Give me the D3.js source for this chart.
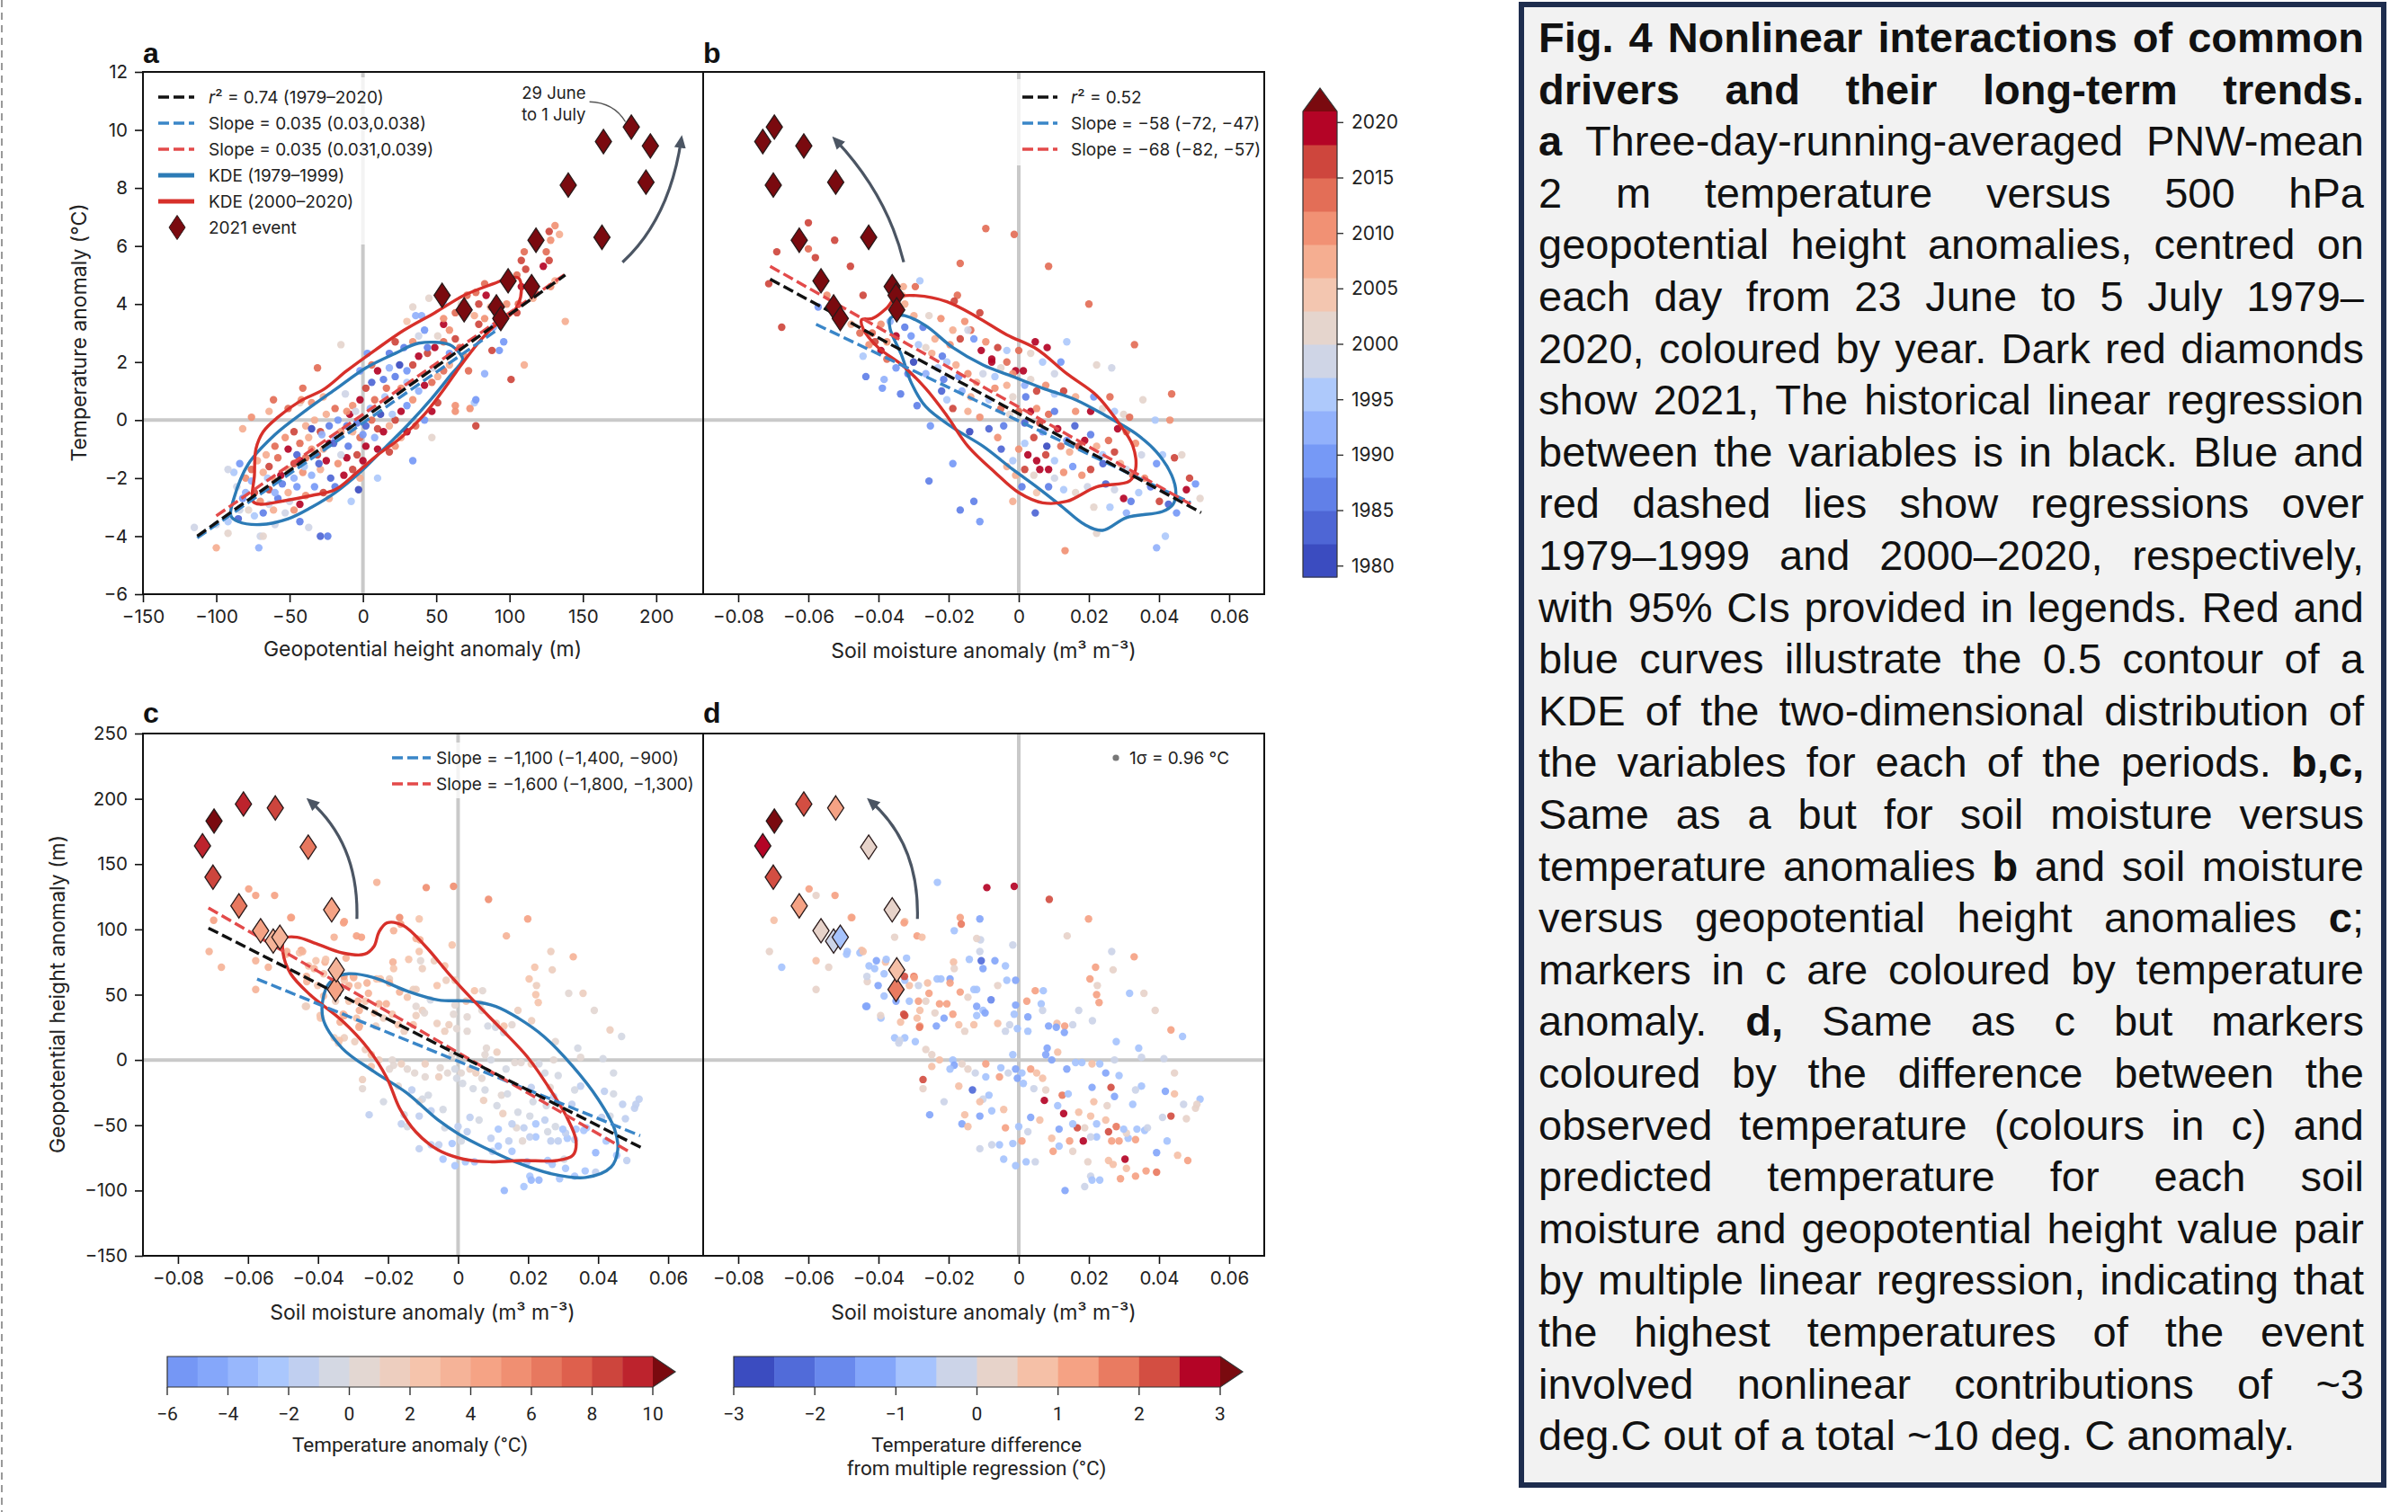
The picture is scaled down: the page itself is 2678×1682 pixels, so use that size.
<!DOCTYPE html>
<html>
<head>
<meta charset="utf-8">
<script src="https://cdn.jsdelivr.net/npm/d3@7"></script>
<style>
  body { margin: 0; background: #fff; }
  svg { display: block; }
</style>
</head>
<body>
<svg id="fig"></svg>
<script>
// ---------- data ----------

// panel a: [geopotential height anomaly (m), temperature anomaly (°C), year]
const aPts = [
[131,6.7,2009],[134,6.4,2008],[127,6.5,2017],[128,6.2,2010],[125,5.8,2014],[127,5.5,2016],[123,5.3,2018],[110,5.8,2013],[108,5.5,2017],[111,5.2,2015],
[105,5.0,2012],[128,4.6,2009],[131,4.8,2007],[108,4.6,2019],[116,4.2,2008],[105,3.7,2017],[106,4.0,2013],[98,4.0,2010],[83,4.7,2014],[84,4.3,2018],
[77,4.4,2012],[79,4.0,2016],[71,4.3,2013],[87,3.9,2007],[91,3.5,2019],[83,3.5,2009],[76,3.6,2006],[79,3.3,2016],[89,3.2,1992],[96,2.7,1988],
[93,2.4,1990],[88,2.4,2015],[138,3.4,2008],[110,1.9,2008],[101,1.4,2017],[83,1.6,1993],[76,0.6,1994],[72,1.7,2014],[73,0.4,2009],[77,-0.2,2015],
[63,0.3,2010],[45,4.2,2001],[40,3.6,1993],[55,4.0,1995],[30,3.4,2005],[-15,2.6,2001],[-31,1.8,2014],
[55,3.3,2018],[59,3.1,2009],[63,2.8,2017],[66,2.5,2013],[55,2.7,2012],[49,2.5,2019],[44,2.3,2016],[38,2.2,2018],[34,1.9,2017],[30,1.7,1988],
[22,1.5,1985],[26,1.1,2009],[18,1.8,1991],[14,1.4,1986],[16,1.1,2013],[10,1.7,2018],[6,1.3,1983],[8,0.7,2012],[2,1.1,2016],[-2,0.7,2019],
[-7,0.5,2011],[-9,0.2,2018],[-4,-0.1,1987],[2,-0.2,1984],[6,0.0,2012],[10,-0.3,2017],[14,-0.4,2020],[18,-0.2,2007],[22,0.0,2016],[26,0.3,2019],
[30,0.5,1990],[34,0.7,2011],[38,1.0,1992],[42,1.2,2018],[47,1.3,2013],[51,1.5,2008],[55,1.7,2012],[59,1.9,2006],[51,0.6,2017],[47,0.3,2019],
[42,0.0,1989],[36,-0.2,2014],[30,-0.4,2018],[26,-0.6,2007],[22,-0.9,2009],[18,-1.1,2016],[10,-1.0,2019],[2,-0.9,2018],[-2,-0.6,2014],[-7,-0.4,2008],
[-11,-0.2,1986],[-15,-0.4,2009],[-19,-0.6,1991],[-23,-0.8,2018],[-27,-1.0,2006],[-31,-1.2,2017],[-35,-1.0,2010],[-39,-1.3,2013],[-43,-1.4,2019],[-47,-1.5,2016],
[-51,-1.7,2008],[-56,-1.9,2018],[-60,-2.1,2009],[-64,-2.4,2017],[-68,-1.8,2006],[-64,-1.6,2016],[-58,-1.3,2012],[-51,-1.0,2018],[-43,-0.8,2013],[-37,-0.6,2007],
[-29,-0.4,2017],[-23,-0.2,1985],[-17,0.0,1988],[-11,0.3,2009],[-19,0.4,2013],[-25,0.2,2007],[-33,0.0,2008],[-39,-0.2,2006],[-47,-0.4,2015],[-53,-0.6,2009],
[-60,-0.9,2012],[-66,-1.2,2007],[-72,-1.4,2008],[-76,-1.7,2013],[-80,-2.0,2009],[-84,-1.5,1990],[-88,-1.8,1996],[-86,-2.3,1999],[-82,-2.7,1989],[-78,-3.1,2001],
[-74,-3.3,1995],[-68,-3.2,1987],[-61,-3.1,2008],[-53,-3.2,1998],[-47,-3.1,2009],[-43,-2.9,2018],[-39,-2.6,2010],[-33,-2.3,1988],[-27,-2.5,2017],[-23,-2.7,2008],
[-19,-2.3,1986],[-13,-1.9,2019],[-7,-1.7,2017],[-2,-2.0,2007],[0,-1.4,2018],[-4,-1.2,2016],[-11,-1.3,2020],[-17,-1.5,2009],[-25,-1.4,2018],[-29,-1.7,2008],
[-35,-1.9,1993],[-41,-1.8,2011],[-47,-2.0,1991],[-51,-2.5,2007],[-58,-2.7,1985],[-64,-2.9,1997],[-70,-2.8,2010],[-74,-2.5,2017],[-76,-2.1,1992],[-43,-3.5,1986],
[-37,-3.7,1998],[-29,-4.0,1984],[-60,-3.6,1999],[-70,-4.0,1998],[-84,-3.1,1997],[-92,-3.5,1996],[-35,0.6,2009],[-41,1.1,2014],[-51,0.4,2013],[-64,0.3,2008],
[-76,0.1,2010],[-82,-0.3,2008],[-43,0.6,2001],[-27,0.8,2007],[-2,1.7,1989],[6,1.9,2013],[18,2.3,1987],[28,2.5,1985],[34,2.7,2010],[38,2.9,1997],
[42,3.1,1988],[51,2.9,2000],[55,3.5,2009],[63,3.7,2013],[67,4.0,2000],[34,3.9,2001],[36,3.6,1991],[44,2.5,1986],[59,2.3,1989],[69,2.2,2010],
[22,2.7,2016],[-115,-3.7,1997],[-100,-4.4,2008],[-92,-1.7,1998],[-92,-3.9,2001],[-71,-4.4,1992],[-24,-4.0,1986],[-68,-4.0,2000],[-61,0.7,2014],[-42,0.7,2009],
[-3,-2.4,1981],[10,-2.0,1995],[34,-1.4,1988],[47,-0.6,2002],[63,0.5,2009],[77,0.7,1990],
[-20,-0.8,1982],[-10,-0.9,1985],[0,-0.5,1989],[5,0.4,1993],[-30,-1.5,1984],[-45,-2.3,1990],[-55,-2.2,1987],[15,0.8,1996],[25,1.9,1980],[-5,0.3,1997],
[-40,-1.6,1995],[-15,-1.2,1998],[20,0.2,1994],[-60,-2.5,1992],[-22,-2.0,1983],[8,-0.6,1991],[12,0.2,1981],[-8,-2.8,1996],[-50,-2.8,1999],[30,1.3,1994],
[-35,-0.3,1980],[-65,-2.0,1996],[-80,-2.5,1993],[48,1.8,1997],[-12,0.9,1999],[3,2.3,1990],[-28,-0.5,1992],[-45,-1.2,1982],[-85,-3.4,1984],[-100,-3.6,1998]
];

// panel b: [soil moisture anomaly (m3 m-3), temperature anomaly (°C), year]
const bPts = [
[-0.0094,6.6,2012],[-0.0013,6.4,2013],[0.0085,5.3,2013],[-0.0167,5.4,2012],[0.020,4.0,2013],[0.033,2.6,2012],[0.0436,0.9,2013],
[-0.0525,6.2,2016],[-0.048,5.3,2017],[-0.0444,4.3,2016],[-0.060,6.8,2016],[-0.069,5.8,2017],[-0.060,5.9,2012],[-0.058,5.6,2015],[-0.0713,4.7,2016],
[-0.0676,3.2,2017],[-0.0572,3.9,1989],[-0.0547,4.3,2009],[-0.0329,4.6,2008],[-0.0295,4.6,2012],[-0.0282,4.8,1996],[-0.0175,4.3,2012],[-0.0184,4.1,2016],
[-0.0111,3.7,2017],[-0.0154,3.4,2009],[-0.0137,3.1,2013],[-0.0167,2.8,2016],[-0.0107,2.4,2018],[-0.0077,2.1,2019],[-0.0009,1.7,2018],[0.0013,1.7,2019],
[0.0047,2.7,2019],[0.0081,2.5,2020],[0.0137,2.7,1995],[0.0222,1.9,2000],[0.0265,1.8,1997],[0.026,0.8,2012],[0.0354,0.7,2001],[0.0389,0.0,1996],
[0.0431,0.0,2009],[0.0444,-1.3,2017],[0.0465,-1.2,2000],[0.0487,-2.0,2017],[0.0478,-2.4,2018],[0.0504,-2.2,1989],[0.0517,-2.7,2001],[0.0401,-2.8,2016],
[0.0427,-2.9,1984],[0.0418,-4.0,1994],[0.0393,-4.4,1993],[0.0307,-3.2,1991],[0.0299,-2.7,2018],[0.026,-3.0,1996],[0.0222,-3.9,2001],[0.0214,-3.0,2002],
[0.0132,-4.5,2009],[0.0047,-3.2,1984],[-0.0017,-2.8,2008],[-0.0111,-3.5,1988],[-0.0128,-2.8,1987],[-0.0167,-3.1,1986],[-0.0188,-1.5,1989],[-0.0256,-2.1,1985],
[-0.0252,-0.2,1990],[-0.029,0.5,1987],[-0.0337,0.9,1986],[-0.0389,1.1,1988],[-0.0436,1.5,1987],[-0.035,1.8,1989],[-0.0316,1.6,1985],[-0.0384,1.4,1992],
[-0.041,2.7,2017],[-0.0418,3.0,2014],[-0.0393,3.3,2009],[-0.035,2.9,2018],[-0.0376,2.1,2013],[-0.0325,3.2,1985],[-0.0307,2.9,1988],[-0.0286,2.6,1996],
[-0.0265,2.5,2002],[-0.0239,2.8,2008],[-0.0248,2.3,2007],[-0.0218,2.2,1985],[-0.0205,2.0,1995],[-0.0196,2.6,2009],[-0.0179,1.9,2008],[-0.0231,1.8,1996],
[-0.0265,1.6,1992],[-0.0214,1.4,1987],[-0.0171,1.5,1990],[-0.0145,1.6,2010],[-0.012,1.3,2007],[-0.0102,1.6,1998],[-0.0162,1.0,1991],[-0.0137,0.8,2008],
[-0.0188,0.4,2015],[-0.0205,0.7,1994],[-0.0145,0.3,2006],[-0.0111,0.1,2009],[-0.0085,0.7,1995],[-0.0068,1.1,2010],[-0.0034,1.2,2008],[-0.0017,0.8,2000],
[-0.0051,0.4,2012],[-0.0085,-0.3,1983],[-0.006,-0.6,2009],[-0.0043,-0.2,1986],[-0.0026,0.2,2001],[0.0,0.3,2012],[0.0017,-0.1,1984],[0.0034,0.3,2018],
[0.0051,0.4,2010],[0.006,-0.1,2017],[0.0068,-0.4,1988],[0.0085,0.2,2013],[0.0102,0.3,1985],[0.0111,-0.3,2019],[0.0043,-0.6,2016],[0.0017,-0.8,1995],
[0.0,-1.0,2009],[0.0026,-1.2,2020],[0.0051,-1.4,2018],[0.0077,-1.2,2016],[0.0102,-1.4,1996],[0.012,-0.9,2012],[0.0137,-0.7,1989],[0.0145,-1.1,2008],
[0.0171,-0.9,2017],[0.0188,-0.7,2018],[0.0205,-0.5,1987],[0.0222,-0.9,2007],[0.0239,-1.2,1994],[0.0256,-0.7,2012],[0.0273,-1.1,2017],[0.029,-1.5,2008],
[0.0307,-1.7,1997],[0.0325,-1.9,2013],[0.0205,-1.7,2016],[0.018,-1.9,2009],[0.0154,-1.6,1990],[0.0128,-1.8,2010],[0.0102,-2.0,1999],[0.0085,-1.7,2019],
[0.006,-1.7,2018],[0.0043,-1.9,2002],[0.0017,-1.7,2016],[-0.0009,-1.9,2008],[-0.0017,-1.4,1994],[-0.0034,-1.6,2007],[0.0009,-2.3,1986],[0.0051,-2.5,2003],
[0.0085,-2.3,1987],[0.0128,-2.4,1995],[0.0162,-2.5,2000],[0.0196,-2.3,1997],[0.0248,-2.2,1983],[0.0273,-2.4,1999],[0.0342,-2.5,1995],[0.0376,-2.3,1986],
[0.0359,-2.0,2009],[0.0393,-1.5,1988],[0.041,-1.2,1996],[0.035,-1.2,1998],[0.0333,-0.8,2010],[0.0307,-0.4,2014],[0.0282,-0.3,2018],[0.0299,0.2,2001],
[0.0316,0.1,2012],[0.0273,0.3,1996],[0.0239,0.4,2000],[0.0205,0.3,2019],[0.0162,0.3,2009],[0.0214,0.8,1990],[0.0162,0.8,2008],[0.0128,1.0,2016],
[0.0102,0.9,1995],[0.0077,1.2,2010],[0.0051,1.0,2017],[0.0034,1.4,2001],[0.0017,1.2,1993],[-0.0017,1.6,2009],[-0.0051,1.8,2002],[-0.0068,1.5,1996],
[-0.0077,2.0,2018],[-0.0034,2.0,2013],[0.0102,1.6,1999],[0.012,2.0,1988],[0.0068,2.0,1995],[0.0034,2.3,2002],[0.0,2.4,2014],[-0.0034,2.4,1994],
[-0.006,2.5,2017],[-0.0094,2.7,2010],[-0.0128,2.8,1989],[-0.0145,3.1,1998],[-0.0188,3.1,2007],[-0.0222,3.5,2010],[-0.0256,3.6,2001],[-0.0273,3.2,1986],
[-0.0299,3.6,2008],[-0.0325,4.0,2006],[-0.0333,4.3,2007],[-0.0367,3.4,1991],[-0.0376,2.7,2009],[-0.0393,2.4,2018],[-0.0427,2.6,2011],[-0.0453,3.0,2013],
[-0.0478,3.3,2008],[-0.0444,2.2,1995],[-0.005,-1.0,1982],[0.008,-0.9,1980],[-0.014,-0.4,1981],[0.016,-0.2,1984],[0.024,-1.5,1982],[-0.022,1.0,1983],
[0.002,0.8,1985],[-0.03,2.0,1980],[0.032,-2.8,1985],[0.045,-3.2,1990]
];

// panels c and d: [soil moisture anomaly, geopotential height anomaly (m), temperature anomaly (°C), difference from multiple regression (°C)]
const cdPts = [
[-0.0232,136,3.5,-0.6],[-0.0091,132,5.5,2.6],[-0.0013,133,5.8,2.7],[0.0087,123,5.0,2.0],[0.0199,108,4.0,1.0],[0.0138,95,3.0,0.3],[0.0329,79,3.3,1.4],
[0.0269,69,1.8,0.1],[0.0219,71,2.6,1.0],[0.0203,62,2.5,1.0],[0.0222,50,2.3,1.3],[0.0229,44,2.2,1.3],[0.0357,51,1.2,0.1],[0.0316,51,0.6,-0.7],
[0.0389,38,0.8,0.0],[0.0434,23,1.5,1.3],[0.0467,18,-0.5,-0.7],[0.0265,83,1.9,-0.2],[0.0224,57,1.8,0.0],[0.021,30,1.2,-0.1],[0.0171,38,1.0,-0.2],
[0.0154,27,0.7,-0.5],[0.0131,26,2.0,1.3],[0.0109,28,1.8,0.9],[0.0085,26,-0.2,-1.2],[0.0064,43,0.8,-0.7],[0.0068,38,0.9,-0.3],[0.0047,53,2.4,1.0],
[0.007,53,0.9,-0.6],[0.0023,45,2.5,1.3],[0.0026,33,0.2,-1.3],[-0.0009,42,0.4,-1.3],[-0.0013,35,0.7,-0.7],[-0.0026,27,1.0,-0.2],[-0.0004,24,0.4,-0.8],
[-0.0038,22,1.0,-0.1],[-0.006,28,1.8,0.7],[-0.0009,61,1.2,-1.4],[-0.0034,61,1.6,-0.9],[-0.0017,88,2.8,-0.3],[-0.006,57,2.2,0.0],[-0.0079,46,-0.1,-2.0],
[-0.0102,38,1.2,-0.7],[-0.012,54,1.5,-0.8],[-0.0107,76,0.9,-2.2],[-0.0102,70,1.3,-1.5],[-0.0068,76,1.6,-1.3],[-0.0038,72,2.0,-0.8],[-0.0111,108,2.7,-1.3],
[-0.0167,109,5.0,1.3],[-0.0184,99,3.0,-0.8],[-0.0109,92,3.2,-0.1],[-0.0111,83,2.7,-0.2],[-0.0164,104,4.8,1.5],[-0.012,93,3.3,0.0],[-0.0186,75,3.6,0.9],
[-0.0184,70,2.8,0.2],[-0.0141,77,2.3,-0.7],[-0.0196,62,1.7,-1.3],[-0.0222,62,2.2,-0.8],[-0.0196,59,3.8,1.4],[-0.0167,52,3.2,1.0],[-0.0128,54,1.6,-0.7],
[-0.0145,48,2.3,0.0],[-0.012,41,0.8,-1.4],[-0.0096,36,0.8,-1.3],[-0.012,34,1.2,-0.8],[-0.0128,27,2.4,0.8],[-0.0154,22,1.9,0.0],[-0.0171,27,2.5,0.8],
[-0.0188,35,2.8,1.0],[-0.0205,43,3.0,1.0],[-0.0226,43,3.2,1.1],[-0.0239,36,2.4,0.2],[-0.0235,26,1.1,-1.3],[-0.0213,32,1.2,-1.3],[-0.0265,45,2.6,0.0],
[-0.0282,38,3.2,0.9],[-0.0286,45,3.5,1.0],[-0.0282,26,3.4,1.4],[-0.029,32,2.9,0.9],[-0.0325,34,4.2,2.0],[-0.0337,29,3.0,0.8],[-0.0312,45,2.0,-0.7],
[-0.0312,57,3.3,0.7],[-0.0299,64,4.1,1.6],[-0.0325,61,2.5,-0.6],[-0.0286,57,2.6,-0.2],[-0.026,59,3.2,0.9],[-0.0256,51,3.2,1.0],[-0.035,45,1.8,-1.3],
[-0.0384,49,2.4,-0.7],[-0.0393,32,2.0,-0.7],[-0.0436,41,1.8,-1.3],[-0.0432,60,3.0,0.0],[-0.0401,57,2.0,-1.3],[-0.0427,72,2.7,-0.7],[-0.0384,66,2.7,-0.6],
[-0.0406,76,2.5,-1.3],[-0.038,75,3.8,0.8],[-0.032,78,3.0,-0.6],[-0.029,95,4.4,1.0],[-0.0325,106,4.5,0.9],[-0.0354,94,3.9,0.4],[-0.0478,109,4.7,0.9],
[-0.0448,84,4.1,0.9],[-0.0491,81,3.0,-0.6],[-0.0453,82,2.9,-0.7],[-0.0325,17,1.6,-0.7],[-0.0354,17,1.6,-0.7],[-0.0342,13,1.8,-0.2],[-0.0295,14,1.4,-0.7],
[-0.0265,8,1.8,0.0],[-0.0248,4,2.1,0.4],[-0.0248,-5,2.2,0.8],[-0.0226,0,1.9,0.5],[-0.0188,0,0.8,-0.7],[-0.0184,-4,0.2,-1.3],[-0.0162,-3,1.2,0.4],
[-0.0145,-7,0.8,0.0],[-0.0124,-10,0.6,-0.1],[-0.0094,-3,1.6,1.0],[-0.0094,-13,0.0,-0.7],[-0.0055,-13,1.5,1.3],[-0.0051,-6,0.2,-0.7],[-0.003,-10,0.4,-0.2],
[-0.0017,4,0.4,-0.7],[-0.0009,-7,-0.4,-1.4],[0.0009,-10,0.0,-0.8],[-0.0004,-14,-0.4,-1.2],[0.0013,-18,-0.1,-0.6],[0.0034,-7,1.3,1.0],[0.0051,-10,1.1,0.9],
[0.0068,-14,0.9,0.8],[0.0077,4,0.0,-1.4],[0.0081,9,0.1,-1.4],[0.0094,0,-0.1,-1.3],[0.0111,6,1.4,0.8],[0.0137,-7,-0.5,-1.2],[0.0162,-2,0.0,-0.7],
[0.018,-2,0.0,-0.6],[0.0209,-3,1.0,0.9],[0.0231,-3,-0.3,-0.7],[0.0248,-10,-0.9,-1.3],[0.0273,0,0.2,-0.1],[0.0286,-12,-0.6,-0.7],[0.0278,14,0.2,-0.7],
[0.0342,9,-0.1,-0.6],[0.035,2,0.0,-0.2],[0.0444,-10,-0.3,0.4],[0.0414,1,-0.2,-0.1],[0.0517,-30,-2.0,-0.7],[0.0504,-37,-1.6,0.2],[0.0478,-45,-1.8,0.2],
[0.0444,-26,-1.0,0.5],[0.0418,-24,-2.0,-1.4],[0.0434,-43,-0.4,2.0],[0.041,-44,-2.0,-0.5],[0.0423,-62,-3.0,-0.7],[0.0453,-73,-2.3,0.9],[0.0482,-77,-2.0,1.3],
[0.0393,-86,-2.0,1.8],[0.0393,-71,-3.7,-1.3],[0.0363,-85,-2.3,1.4],[0.0333,-89,-2.5,1.3],[0.0307,-83,-2.6,0.8],[0.029,-91,-2.5,1.3],[0.0303,-76,-1.0,2.8],
[0.0269,-80,-2.4,0.9],[0.0256,-77,-2.6,0.5],[0.0265,-62,-1.6,1.3],[0.0286,-62,-1.6,1.4],[0.0312,-60,-3.0,-0.6],[0.0333,-61,-1.8,1.3],[0.0359,-54,-2.7,-0.7],
[0.0367,-52,-2.3,-0.2],[0.0337,-53,-2.4,-0.6],[0.0307,-56,-1.9,0.0],[0.0299,-53,-2.3,-0.7],[0.0278,-51,-0.7,1.5],[0.0256,-55,-0.4,2.0],[0.0248,-46,-1.2,0.5],
[0.0222,-49,-2.1,-0.7],[0.0205,-43,-0.9,0.9],[0.0222,-59,-2.4,-0.6],[0.0205,-59,-2.0,-0.1],[0.0184,-62,0.6,2.7],[0.0167,-52,0.0,2.0],[0.0188,-52,-1.6,0.0],
[0.0171,-40,-0.6,0.8],[0.0154,-49,-1.8,-0.7],[0.0128,-41,1.2,2.6],[0.0124,-27,0.6,1.6],[0.0111,-35,-1.0,-0.7],[0.0115,-53,-2.2,-1.3],[0.0094,-60,-1.5,0.5],
[0.0098,-70,-1.1,1.3],[0.0115,-66,-2.4,-0.7],[0.0145,-62,-1.3,1.0],[0.0154,-70,-2.1,0.0],[0.0197,-78,-2.4,0.0],[0.0205,-89,-2.8,-0.2],[0.0231,-92,-3.2,-0.8],
[0.0209,-92,-3.1,-0.7],[0.0188,-97,-3.0,-0.3],[0.0132,-100,-3.6,-1.3],[0.0073,-31,1.6,2.7],[0.0077,-23,-0.3,0.0],[0.0043,-22,-0.3,-0.1],[0.0034,-44,-2.0,-1.3],
[0.006,-46,-0.9,0.5],[0.0026,-55,-1.7,-0.1],[0.0,-51,-1.9,-0.7],[0.0009,-62,-1.0,1.0],[-0.0017,-64,-2.2,-0.7],[-0.0009,-81,-2.6,-0.6],[0.0021,-78,-2.7,-0.7],
[0.0047,-78,-2.5,-0.5],[-0.0043,-76,-2.5,-0.7],[-0.0055,-65,-2.0,-0.6],[-0.0038,-52,-0.3,1.3],[-0.0043,-38,-0.2,0.9],[-0.0077,-39,-1.3,-0.7],[-0.0102,-30,-0.6,-0.1],
[-0.0085,-27,-1.0,-0.7],[-0.0111,-32,0.2,0.9],[-0.0132,-23,-1.9,-2.2],[-0.0111,-43,-1.6,-1.3],[-0.0162,-49,-1.6,-1.3],[-0.0154,-42,-0.2,0.9],[-0.0145,-51,-0.8,0.5],
[-0.0077,-65,-1.8,-0.1],[-0.0111,-68,-1.9,-0.2],[-0.0171,-20,0.5,0.9],[-0.0213,-32,-0.3,-0.1],[-0.0254,-42,-1.2,-1.3],[-0.0273,-15,1.8,2.0],[-0.0273,-22,0.4,0.2],
[-0.0196,-7,0.3,-0.7],[0.0026,22,0.6,-0.7],[0.0107,25,-0.1,-1.3],[0.013,21,-0.2,-1.2],[0.0141,-26,-1.0,-0.7],[0.0209,-21,-1.3,-1.3],[0.0214,-32,-0.3,0.9],
[0.0252,-35,-0.9,0.0],[0.0273,-28,-1.6,-1.3],[0.0263,-21,0.5,2.0],[0.0325,-34,-1.5,-0.7],[0.035,-20,-1.1,-0.7],[0.0333,-23,-0.9,-0.1],[0.047,-34,-1.4,-0.1],
[0.0508,-34,-1.3,0.2],[-0.0598,131,4.5,1.0],[-0.0578,126,4.0,0.0],[-0.0524,126,4.3,1.0],[-0.0698,107,4.5,0.5],[-0.0711,83,3.9,0.0],[-0.0676,71,3.2,-0.8],
[-0.0578,76,3.8,0.5],[-0.0542,71,3.5,0.0],[-0.0578,54,3.5,0.4],[-0.0476,109,4.4,1.0],[-0.0444,83,3.9,0.9],[-0.0489,83,3.0,-0.7],[-0.0433,64,3.0,-0.1],
[-0.0433,41,1.9,-1.3],[-0.0394,34,2.6,0.0],[-0.0327,105,4.6,1.0],[-0.0276,94,4.4,0.9],[-0.0378,77,2.9,-0.7],[-0.0411,70,3.0,-0.6],[-0.0326,64,4.6,2.0],
[-0.0298,63,3.6,1.0],[-0.0328,35,3.8,2.0],[-0.0283,25,3.4,1.6],[-0.0339,15,2.1,-0.1],[-0.0233,62,2.3,-0.7]
];

// 2021 event, 23 June - 5 July: [geopotential height (m), soil moisture, temperature (°C), difference from regression (°C)]
const eventDays = [
[183,-0.0697,10.1,3.3],[164,-0.073,9.6,2.8],[196,-0.0613,9.45,2.2],[193,-0.0522,8.2,1.2],[140,-0.070,8.1,2.2],
[163,-0.0428,6.3,0.3],[118,-0.0626,6.2,1.3],[99,-0.0564,4.8,0.1],[115,-0.0361,4.6,0.2],[54,-0.035,4.3,1.7],
[91,-0.0528,3.9,-0.4],[69,-0.0348,3.8,0.7],[94,-0.0509,3.5,-0.8]
];

// 0.5 KDE contours
const kdeA_early = [[66,2.3],[59,2.6],[38,2.65],[22,2.3],[2,1.8],[-19,1.05],[-39,0.33],[-60,-0.5],[-78,-1.5],[-88,-2.7],[-90,-3.3],[-85,-3.5],[-70,-3.6],[-51,-3.4],[-35,-3.0],[-19,-2.5],[-2,-1.8],[14,-1.0],[30,-0.2],[47,0.75],[59,1.5],[68,2.1]];
const kdeA_late = [[106,4.9],[100,4.9],[89,4.7],[69,4.3],[49,3.7],[28,3.1],[8,2.4],[-11,1.7],[-27,1.05],[-43,0.65],[-58,0.1],[-68,-0.4],[-73,-1.0],[-74,-1.9],[-75,-2.8],[-70,-2.9],[-56,-2.8],[-35,-2.6],[-19,-2.4],[-4,-1.8],[10,-1.2],[26,-0.6],[42,0.2],[55,1.05],[67,1.9],[81,2.8],[91,3.3],[100,3.6],[106,4.0],[108,4.6]];
const kdeB_early = [[-0.035,3.6],[-0.0325,3.6],[-0.0265,3.25],[-0.0188,2.5],[-0.0102,1.9],[-0.0017,1.5],[0.0068,1.1],[0.0162,0.7],[0.0248,0.15],[0.0333,-0.46],[0.0393,-1.1],[0.0436,-1.9],[0.0448,-2.5],[0.044,-2.9],[0.041,-3.15],[0.0307,-3.36],[0.0239,-3.8],[0.0188,-3.6],[0.012,-2.95],[0.0051,-2.3],[-0.0017,-1.7],[-0.0102,-0.9],[-0.0188,-0.26],[-0.0265,0.46],[-0.0307,1.3],[-0.0333,2.2],[-0.0367,3.15],[-0.0367,3.5]];
const kdeB_late = [[-0.0448,3.46],[-0.0418,3.5],[-0.0376,3.87],[-0.035,4.23],[-0.029,4.29],[-0.0205,4.08],[-0.012,3.56],[-0.0034,2.94],[0.0051,2.45],[0.0137,1.6],[0.0222,0.85],[0.0282,-0.05],[0.0325,-0.88],[0.0333,-1.7],[0.0316,-2.1],[0.0222,-2.3],[0.0137,-2.8],[0.0068,-2.85],[0.0,-2.5],[-0.0068,-1.8],[-0.0145,-0.9],[-0.0205,0.15],[-0.0265,1.08],[-0.0333,1.9],[-0.0401,2.5],[-0.0444,3.15]];
const kdeC_early = [[-0.035,63],[-0.0313,66],[-0.024,63],[-0.0148,53],[-0.0057,46],[0.0035,45],[0.0108,41],[0.0172,32],[0.0245,18],[0.0328,-5],[0.04,-30],[0.0447,-53],[0.0456,-69],[0.0437,-82],[0.0364,-90],[0.0264,-87],[0.0163,-78],[0.009,-69],[0.0016,-59],[-0.0057,-46],[-0.0148,-25],[-0.024,-9],[-0.0331,9],[-0.0386,32],[-0.0377,55]];
const kdeC_late = [[-0.0496,93],[-0.046,94],[-0.0404,89],[-0.0331,82],[-0.0267,81],[-0.024,87],[-0.0226,98],[-0.0203,105],[-0.0157,103],[-0.0093,87],[-0.002,64],[0.0053,43],[0.0126,23],[0.0199,2],[0.0264,-23],[0.0309,-43],[0.0337,-62],[0.0328,-73],[0.0282,-77],[0.0181,-77],[0.009,-78],[0.0016,-76],[-0.0057,-69],[-0.0121,-55],[-0.0167,-37],[-0.0203,-14],[-0.0258,9],[-0.0331,30],[-0.0423,50],[-0.0478,66],[-0.05,82]];

// regression line end points
const regA_all = [[-113,-4.0],[138,5.0]], regA_early = [[-113,-4.06],[95,3.23]], regA_late = [[-100,-3.3],[138,5.03]];
const regB_all = [[-0.0709,4.86],[0.052,-3.19]], regB_early = [[-0.0578,3.3],[0.049,-2.85]], regB_late = [[-0.0709,5.3],[0.049,-2.9]];
const regC_all = [[-0.0713,101],[0.0522,-67]], regC_early = [[-0.0574,62],[0.052,-58]], regC_late = [[-0.0713,116.5],[0.0485,-69.7]];

// ticks and labels
const aXTicks = [-150,-100,-50,0,50,100,150,200];
const aYTicks = [-6,-4,-2,0,2,4,6,8,10,12];
const smTicks = [-0.08,-0.06,-0.04,-0.02,0,0.02,0.04,0.06];
const cYTicks = [-150,-100,-50,0,50,100,150,200,250];
const yearTicks = [1980,1985,1990,1995,2000,2005,2010,2015,2020];
const tempTicks = [-6,-4,-2,0,2,4,6,8,10];
const residTicks = [-3,-2,-1,0,1,2,3];
const legA = ["² = 0.74 (1979–2020)", "Slope = 0.035 (0.03,0.038)", "Slope = 0.035 (0.031,0.039)", "KDE (1979–1999)", "KDE (2000–2020)", "2021 event"];
const legB = ["² = 0.52", "Slope = −58 (−72, −47)", "Slope = −68 (−82, −57)"];
const legC = ["Slope = −1,100 (−1,400, −900)", "Slope = −1,600 (−1,800, −1,300)"];
const legD = "1σ = 0.96 °C";

const captionLines = [
"*Fig.* *4* *Nonlinear* *interactions* *of* *common*",
"*drivers* *and* *their* *long-term* *trends.*",
"*a* Three-day-running-averaged PNW-mean",
"2 m temperature versus 500 hPa",
"geopotential height anomalies, centred on",
"each day from 23 June to 5 July 1979–",
"2020, coloured by year. Dark red diamonds",
"show 2021, The historical linear regression",
"between the variables is in black. Blue and",
"red dashed lies show regressions over",
"1979–1999 and 2000–2020, respectively,",
"with 95% CIs provided in legends. Red and",
"blue curves illustrate the 0.5 contour of a",
"KDE of the two-dimensional distribution of",
"the variables for each of the periods. *b,c,*",
"Same as a but for soil moisture versus",
"temperature anomalies *b* and soil moisture",
"versus geopotential height anomalies *c*;",
"markers in c are coloured by temperature",
"anomaly. *d,* Same as c but markers",
"coloured by the difference between the",
"observed temperature (colours in c) and",
"predicted temperature for each soil",
"moisture and geopotential height value pair",
"by multiple linear regression, indicating that",
"the highest temperatures of the event",
"involved nonlinear contributions of ~3",
"deg.C out of a total ~10 deg. C anomaly."
];

// ---------- drawing ----------
let width = 2678, height = 1682;
let svg = d3.select("#fig").attr("width", width).attr("height", height);
const FONT = "Inter, 'Open Sans', sans-serif";
const BAR_FONT = "Roboto, 'Liberation Sans', sans-serif";
const CAP_FONT = "'Liberation Sans', Arial, sans-serif";

// coolwarm colormap
const coolStops = ["#3b4cc0","#5977e3","#7b9ff9","#aac7fd","#dddcdc","#f5c4ac","#f49a7b","#de604d","#b40426"];
const cool = d3.scaleLinear().domain(coolStops.map((c, i) => i / 8)).range(coolStops).interpolate(d3.interpolateLab);
const OVER = "#7a0a0f";
const yearColor = y => cool(Math.max(0, Math.min(13, Math.floor((y - 1979) / 3))) / 13);
const tempColor = t => t >= 10 ? OVER : cool((Math.max(-6, Math.floor(t)) + 0.5 + 10) / 20);
const residColor = r => r >= 3 ? OVER : cool(Math.max(0, Math.min(11, Math.floor((r + 3) / 0.5))) / 11);

const BLUE = "#2c7bb6", RED = "#d7302a", BLUE_D = "#3a86c8", RED_D = "#e34a4a";
const R = 4.2;

svg.append("defs").append("marker")
    .attr("id", "head").attr("viewBox", "0 -5 10 10").attr("refX", 6).attr("refY", 0)
    .attr("markerWidth", 4.5).attr("markerHeight", 4.5).attr("orient", "auto")
    .append("path").attr("d", "M0,-4.5L10,0L0,4.5Z").attr("fill", "#4b5563");

// scales
let xA = d3.scaleLinear().domain([-150, 232]).range([159, 782]);
let yA = d3.scaleLinear().domain([-6, 12]).range([661, 80]);
let xB = d3.scaleLinear().domain([-0.09, 0.07]).range([782, 1406]);
let xC = d3.scaleLinear().domain([-0.09, 0.07]).range([159, 782]);
let yC = d3.scaleLinear().domain([-150, 250]).range([1397, 816]);
let xD = d3.scaleLinear().domain([-0.09, 0.07]).range([782, 1406]);

// left dashed page edge
svg.append("line").attr("x1", 2).attr("x2", 2).attr("y1", 0).attr("y2", height)
    .attr("stroke", "#999").attr("stroke-width", 2).attr("stroke-dasharray", "8,6");

function zeroLines(x, y) {
    svg.append("line").attr("x1", x(0)).attr("x2", x(0)).attr("y1", y.range()[1]).attr("y2", y.range()[0])
        .attr("stroke", "#c9c9c9").attr("stroke-width", 4);
    svg.append("line").attr("x1", x.range()[0]).attr("x2", x.range()[1]).attr("y1", y(0)).attr("y2", y(0))
        .attr("stroke", "#c9c9c9").attr("stroke-width", 4);
}

function dots(data, x, y, fx, fy, fc) {
    svg.append("g").selectAll("circle").data(data).enter().append("circle")
        .attr("cx", d => x(fx(d))).attr("cy", d => y(fy(d))).attr("r", R)
        .attr("fill", fc).attr("fill-opacity", 0.92);
}

function contour(pts, x, y, color) {
    svg.append("path").datum(pts)
        .attr("d", d3.line().x(d => x(d[0])).y(d => y(d[1])).curve(d3.curveCatmullRomClosed.alpha(0.5)))
        .attr("fill", "none").attr("stroke", color).attr("stroke-width", 3.4);
}

function regLine(pts, x, y, color) {
    svg.append("line")
        .attr("x1", x(pts[0][0])).attr("y1", y(pts[0][1])).attr("x2", x(pts[1][0])).attr("y2", y(pts[1][1]))
        .attr("stroke", color).attr("stroke-width", 3.4).attr("stroke-dasharray", "12,5");
}

const DIAMOND = "M0,-13.5L9,0L0,13.5L-9,0Z";
function diamonds(data, x, y, fx, fy, fc) {
    svg.append("g").selectAll("path").data(data).enter().append("path")
        .attr("d", DIAMOND).attr("transform", d => `translate(${x(fx(d))},${y(fy(d))})`)
        .attr("fill", fc).attr("stroke", "#2a1a1a").attr("stroke-width", 1.3);
}

function bigArrow(p, x, y) {
    svg.append("path")
        .attr("d", `M${x(p[0][0])},${y(p[0][1])}Q${x(p[1][0])},${y(p[1][1])} ${x(p[2][0])},${y(p[2][1])}`)
        .attr("fill", "none").attr("stroke", "#4b5563").attr("stroke-width", 3.2).attr("marker-end", "url(#head)");
}

function frame(x, y) {
    svg.append("rect").attr("x", x.range()[0]).attr("y", y.range()[1])
        .attr("width", x.range()[1] - x.range()[0]).attr("height", y.range()[0] - y.range()[1])
        .attr("fill", "none").attr("stroke", "#111").attr("stroke-width", 2);
}

const smFmt = d => d === 0 ? "0" : d3.format(".2f")(d);
function xAxis(x, y, ticks, fmt) {
    let ax = svg.append("g").attr("transform", `translate(0,${y.range()[0]})`)
        .call(d3.axisBottom(x).tickValues(ticks).tickFormat(fmt).tickSize(9).tickPadding(8));
    ax.select(".domain").remove();
    ax.selectAll("line").attr("stroke", "#111").attr("stroke-width", 1.6);
    ax.selectAll("text").attr("font-size", 20.5).attr("fill", "#222").attr("font-family", FONT);
}
function yAxis(x, y, ticks) {
    let ax = svg.append("g").attr("transform", `translate(${x.range()[0]},0)`)
        .call(d3.axisLeft(y).tickValues(ticks).tickFormat(d3.format("d")).tickSize(9).tickPadding(8));
    ax.select(".domain").remove();
    ax.selectAll("line").attr("stroke", "#111").attr("stroke-width", 1.6);
    ax.selectAll("text").attr("font-size", 20.5).attr("fill", "#222").attr("font-family", FONT);
}
function label(txt, x, y, opts = {}) {
    let t = svg.append("text").attr("x", x).attr("y", y).text(txt)
        .attr("font-family", opts.font || FONT).attr("font-size", opts.size || 23)
        .attr("fill", opts.fill || "#222").attr("text-anchor", opts.anchor || "middle");
    if (opts.weight) t.attr("font-weight", opts.weight);
    if (opts.rotate) t.attr("transform", `rotate(-90,${x},${y})`);
    return t;
}
function legendBg(x, y, w, h) {
    svg.append("rect").attr("x", x).attr("y", y).attr("width", w).attr("height", h)
        .attr("fill", "#fff").attr("fill-opacity", 0.78);
}
function legendLine(x0, x1, y, color, dashed) {
    svg.append("line").attr("x1", x0).attr("x2", x1).attr("y1", y).attr("y2", y)
        .attr("stroke", color).attr("stroke-width", dashed ? 3.4 : 5)
        .attr("stroke-dasharray", dashed ? "12,5" : null);
}
function legendText(x, y, txt, italicR) {
    let t = svg.append("text").attr("x", x).attr("y", y).attr("dy", "0.35em")
        .attr("font-family", FONT).attr("font-size", 19).attr("fill", "#222");
    if (italicR) t.append("tspan").attr("font-style", "italic").text("r");
    t.append("tspan").text(txt);
}

// ---- panel a ----
zeroLines(xA, yA);
dots(aPts, xA, yA, d => d[0], d => d[1], d => yearColor(d[2]));
contour(kdeA_early, xA, yA, BLUE);
contour(kdeA_late, xA, yA, RED);
regLine(regA_early, xA, yA, BLUE_D);
regLine(regA_late, xA, yA, RED_D);
regLine(regA_all, xA, yA, "#111");
diamonds(eventDays, xA, yA, d => d[0], d => d[2], OVER);
bigArrow([[177, 5.44], [209, 6.93], [217, 9.65]], xA, yA);
svg.append("path")
    .attr("d", `M${xA(154.5)},${yA(10.97)}Q${xA(171)},${yA(10.95)} ${xA(179)},${yA(10.28)}`)
    .attr("fill", "none").attr("stroke", "#555").attr("stroke-width", 1.3);
label("29 June", xA(152), yA(11.25) + 6, { size: 18.5, anchor: "end" });
label("to 1 July", xA(152), yA(10.5) + 6, { size: 18.5, anchor: "end" });
legendBg(165, 86, 350, 186);
legendLine(176, 216, 108, "#111", true);
legendLine(176, 216, 137, BLUE_D, true);
legendLine(176, 216, 166, RED_D, true);
legendLine(176, 216, 195, BLUE, false);
legendLine(176, 216, 224, RED, false);
svg.append("path").attr("d", DIAMOND).attr("transform", "translate(197,253)").attr("fill", OVER).attr("stroke", "#2a1a1a");
legA.forEach((s, i) => legendText(232, 108 + i * 29, s, i === 0));
frame(xA, yA);
xAxis(xA, yA, aXTicks, d3.format("d"));
yAxis(xA, yA, aYTicks);
label("Geopotential height anomaly (m)", 470, 730);
label("Temperature anomaly (°C)", 96, 370, { rotate: true });

// ---- panel b ----
zeroLines(xB, yA);
dots(bPts, xB, yA, d => d[0], d => d[1], d => yearColor(d[2]));
contour(kdeB_early, xB, yA, BLUE);
contour(kdeB_late, xB, yA, RED);
regLine(regB_early, xB, yA, BLUE_D);
regLine(regB_late, xB, yA, RED_D);
regLine(regB_all, xB, yA, "#111");
diamonds(eventDays, xB, yA, d => d[1], d => d[2], OVER);
bigArrow([[-0.0328, 5.44], [-0.0375, 7.76], [-0.0522, 9.65]], xB, yA);
legendBg(1126, 88, 278, 96);
legendLine(1137, 1176, 108, "#111", true);
legendLine(1137, 1176, 137, BLUE_D, true);
legendLine(1137, 1176, 166, RED_D, true);
legB.forEach((s, i) => legendText(1191, 108 + i * 29, s, i === 0));
frame(xB, yA);
xAxis(xB, yA, smTicks, smFmt);
label("Soil moisture anomaly (m³ m⁻³)", 1094, 732);

// ---- panel c ----
zeroLines(xC, yC);
dots(cdPts, xC, yC, d => d[0], d => d[1], d => tempColor(d[2]));
contour(kdeC_early, xC, yC, BLUE);
contour(kdeC_late, xC, yC, RED);
regLine(regC_early, xC, yC, BLUE_D);
regLine(regC_late, xC, yC, RED_D);
regLine(regC_all, xC, yC, "#111");
diamonds(eventDays, xC, yC, d => d[1], d => d[0], d => tempColor(d[2]));
bigArrow([[-0.0289, 108], [-0.0283, 165], [-0.0422, 198]], xC, yC);
legendBg(426, 826, 354, 62);
legendLine(436, 479, 843, BLUE_D, true);
legendLine(436, 479, 872, RED_D, true);
legC.forEach((s, i) => legendText(485, 843 + i * 29, s, false));
frame(xC, yC);
xAxis(xC, yC, smTicks, smFmt);
yAxis(xC, yC, cYTicks);
label("Soil moisture anomaly (m³ m⁻³)", 470, 1468);
label("Geopotential height anomaly (m)", 72, 1106, { rotate: true });

// ---- panel d ----
zeroLines(xD, yC);
dots(cdPts, xD, yC, d => d[0], d => d[1], d => residColor(d[3]));
diamonds(eventDays, xD, yC, d => d[1], d => d[0], d => residColor(d[3]));
bigArrow([[-0.0289, 108], [-0.0283, 165], [-0.0422, 198]], xD, yC);
svg.append("circle").attr("cx", 1241).attr("cy", 843).attr("r", 3.6).attr("fill", "#777");
legendText(1256, 843, legD, false);
frame(xD, yC);
xAxis(xD, yC, smTicks, smFmt);
label("Soil moisture anomaly (m³ m⁻³)", 1094, 1468);

// panel letters
[["a", 159, 70], ["b", 782, 70], ["c", 159, 804], ["d", 782, 804]].forEach(p =>
    label(p[0], p[1], p[2], { font: "'Liberation Sans', Arial, sans-serif", size: 32, weight: "bold", anchor: "start", fill: "#111" }));

// ---- vertical year colour bar ----
(function () {
    const x0 = 1449, x1 = 1487;
    const ys = d3.scaleLinear().domain([1979, 2021]).range([642, 124]);
    const edges = d3.range(1979, 2021.001, 3);
    for (let i = 0; i < edges.length - 1; i++) {
        svg.append("rect").attr("x", x0).attr("width", x1 - x0)
            .attr("y", ys(edges[i + 1])).attr("height", ys(edges[i]) - ys(edges[i + 1]) + 0.5)
            .attr("fill", yearColor(edges[i] + 1));
    }
    svg.append("path").attr("d", `M${x0},${ys(2021)}L${(x0 + x1) / 2},${ys(2021) - 26}L${x1},${ys(2021)}Z`).attr("fill", OVER);
    svg.append("path")
        .attr("d", `M${x0},${ys(1979)}L${x0},${ys(2021)}L${(x0 + x1) / 2},${ys(2021) - 26}L${x1},${ys(2021)}L${x1},${ys(1979)}Z`)
        .attr("fill", "none").attr("stroke", "#333").attr("stroke-width", 1.2);
    yearTicks.forEach(t => {
        svg.append("line").attr("x1", x1).attr("x2", x1 + 7).attr("y1", ys(t)).attr("y2", ys(t)).attr("stroke", "#333").attr("stroke-width", 1.4);
        label(String(t), 1503, ys(t) + 7, { size: 21, anchor: "start" });
    });
})();

// ---- horizontal colour bars ----
function hBar(x0, x1, edges, colorOf, ticks, fmt, titles, tcx) {
    const y0 = 1509, y1 = 1543, ym = (y0 + y1) / 2;
    const sc = d3.scaleLinear().domain([edges[0], edges[edges.length - 1]]).range([x0, x1]);
    for (let i = 0; i < edges.length - 1; i++) {
        svg.append("rect").attr("x", sc(edges[i])).attr("width", sc(edges[i + 1]) - sc(edges[i]) + 0.5)
            .attr("y", y0).attr("height", y1 - y0)
            .attr("fill", colorOf((edges[i] + edges[i + 1]) / 2));
    }
    svg.append("path").attr("d", `M${x1},${y0}L${x1 + 25},${ym}L${x1},${y1}Z`).attr("fill", OVER);
    svg.append("path").attr("d", `M${x0},${y0}L${x1},${y0}L${x1 + 25},${ym}L${x1},${y1}L${x0},${y1}Z`)
        .attr("fill", "none").attr("stroke", "#333").attr("stroke-width", 1.2);
    ticks.forEach(t => {
        svg.append("line").attr("x1", sc(t)).attr("x2", sc(t)).attr("y1", y1).attr("y2", y1 + 9).attr("stroke", "#333").attr("stroke-width", 1.4);
        label(fmt(t), sc(t), 1580, { size: 21, font: BAR_FONT });
    });
    titles.forEach((s, k) => label(s, tcx, 1615 + k * 26, { size: 22.5, font: BAR_FONT }));
}
hBar(186, 726, d3.range(-6, 10.001, 1), tempColor, tempTicks, d3.format("d"), ["Temperature anomaly (°C)"], 456);
hBar(816, 1357, d3.range(-3, 3.001, 0.5), residColor, residTicks, d3.format("d"),
    ["Temperature difference", "from multiple regression (°C)"], 1086);

// ---- caption box ----
(function () {
    svg.append("rect").attr("x", 1692).attr("y", 5).attr("width", 959).attr("height", 1647)
        .attr("fill", "#f2f2f2").attr("stroke", "#1e2d4e").attr("stroke-width", 6);
    const left = 1711, W = 918;
    captionLines.forEach((line, i) => {
        const yb = 58 + i * 57.6;
        const words = line.split(" ");
        let size = 47;
        const nodes = words.map(w => {
            let t = svg.append("text").attr("y", yb).attr("font-family", CAP_FONT).attr("font-size", size).attr("fill", "#111");
            w.split("*").forEach((seg, k) => { if (seg) t.append("tspan").attr("font-weight", k % 2 ? "bold" : "normal").text(seg); });
            return t;
        });
        let widths = nodes.map(n => n.node().getComputedTextLength());
        let total = d3.sum(widths);
        if (total + 8 * (words.length - 1) > W) {
            const s = (W - 8 * (words.length - 1)) / total;
            nodes.forEach(n => n.attr("font-size", size * s));
            widths = nodes.map(n => n.node().getComputedTextLength());
            total = d3.sum(widths);
        }
        const last = i === captionLines.length - 1;
        const gap = last ? 13 : (W - total) / (words.length - 1);
        let xx = left;
        nodes.forEach((n, k) => { n.attr("x", xx); xx += widths[k] + gap; });
    });
})();
</script>
</body>
</html>
